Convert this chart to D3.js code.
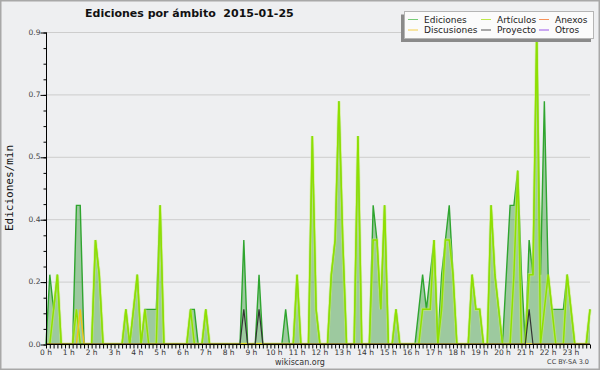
<!DOCTYPE html>
<html>
<head>
<meta charset="utf-8">
<script src="https://cdn.jsdelivr.net/npm/d3@7"></script>
<style>
  body { margin: 0; background: #fff; }
  text { font-family: "DejaVu Sans", sans-serif; }
</style>
</head>
<body>
<script>
// Ediciones por ámbito - wikiscan, 2015-01-25
// one value every 10 min (144 bins), in ediciones/min

var ediciones = [
  0,.2,.1,.2,0,0,0,0,.4,.4,0,0,
  0,.3,.2,0,0,0,0,0,0,.1,0,.1,
  .2,0,.1,.1,.1,.1,.4,0,0,0,0,0,
  0,0,.1,.1,0,0,.1,0,0,0,0,0,
  0,0,0,0,.3,0,0,0,.2,0,0,0,
  0,0,0,.1,0,0,.2,0,0,0,.6,.1,
  0,0,0,.2,.3,.7,.3,0,0,0,.6,0,
  0,0,.4,.3,.1,.4,0,0,.1,0,0,0,
  0,0,.1,.2,.1,.2,.3,0,.2,.3,.4,.2,
  0,0,0,0,.2,.1,.1,0,0,.4,.2,.1,
  0,.2,.4,.4,.5,.2,0,.3,.2,.9,.2,.7,
  .2,.1,.1,.1,.1,.2,.1,0,0,0,0,.1
];
var articulos = [
  0,0,.1,.2,0,0,0,0,.1,0,0,0,
  0,.3,.2,0,0,0,0,0,0,.1,0,.1,
  .2,0,.1,0,0,0,.4,0,0,0,0,0,
  0,0,.1,0,0,0,.1,0,0,0,0,0,
  0,0,0,0,0,0,0,0,0,0,0,0,
  0,0,0,0,0,0,.2,0,0,0,.6,.1,
  0,0,0,.2,.3,.7,.3,0,0,0,.6,0,
  0,0,.3,.3,.1,.4,0,0,.1,0,0,0,
  0,0,0,.1,.1,.1,.3,0,.1,.3,.3,.2,
  0,0,0,0,.2,.1,.1,0,0,.4,.2,.1,
  0,0,0,.2,.5,0,0,.2,.2,.9,0,.1,
  .2,.1,0,0,0,.2,.1,0,0,0,0,.1
];
var discusiones = [
  0,0,0,0,0,0,0,0,0,.1,0,0,
  0,0,0,0,0,0,0,0,0,0,0,0,
  0,0,0,0,0,0,0,0,0,0,0,0,
  0,0,0,0,0,0,0,0,0,0,0,0,
  0,0,0,0,0,0,0,0,0,0,0,0,
  0,0,0,0,0,0,0,0,0,0,0,0,
  0,0,0,0,0,0,0,0,0,0,0,0,
  0,0,0,0,0,0,0,0,0,0,0,0,
  0,0,0,0,0,0,0,0,0,0,0,0,
  0,0,0,0,0,0,0,0,0,0,0,0,
  0,0,0,0,0,0,0,0,0,0,0,0,
  0,0,0,0,0,0,0,0,0,0,0,0
];
var proyecto = [
  0,0,0,0,0,0,0,0,0,0,0,0,
  0,0,0,0,0,0,0,0,0,0,0,0,
  0,0,0,0,0,0,0,0,0,0,0,0,
  0,0,0,0,0,0,0,0,0,0,0,0,
  0,0,0,0,.1,0,0,0,.1,0,0,0,
  0,0,0,0,0,0,0,0,0,0,0,0,
  0,0,0,0,0,0,0,0,0,0,0,0,
  0,0,0,0,0,0,0,0,0,0,0,0,
  0,0,0,0,0,0,0,0,0,0,0,0,
  0,0,0,0,0,0,0,0,0,0,0,0,
  0,0,0,0,0,0,0,.1,0,0,0,0,
  0,0,0,0,0,0,0,0,0,0,0,0
];

var horas = ["0 h","1 h","2 h","3 h","4 h","5 h","6 h","7 h","8 h","9 h","10 h","11 h",
             "12 h","13 h","14 h","15 h","16 h","17 h","18 h","19 h","20 h","21 h","22 h","23 h"];
var yTicks = [0, 0.18, 0.36, 0.54, 0.72, 0.9];   // max/5 steps, labels rounded like the original
var leyenda = [["Ediciones","#7c7"],["Artículos","#bde84a"],["Anexos","#f7925a"],
               ["Discusiones","#f5cf4a"],["Proyecto","#555"],["Otros","#9a55e8"]];

var w = 600, h = 370;
var padL = 46, padR = 590, padT = 32, padB = 344;   // (window.top is taken, don't use "top")

var svg = d3.select("body").append("svg")
    .attr("width", w)
    .attr("height", h);

// background + frame
svg.append("rect")
    .attr("x", 0.75).attr("y", 0.75)
    .attr("width", w - 1.5).attr("height", h - 1.5)
    .attr("fill", "#eeeff1")
    .attr("stroke", "#a8a8a8")
    .attr("stroke-width", 1.5);

var x = d3.scaleLinear().domain([0, 143]).range([padL, padR]);
var y = d3.scaleLinear().domain([0, 0.9]).range([padB, padT]);

// grid
svg.selectAll(".grid")
    .data(yTicks.slice(1))
    .enter()
    .append("line")
    .attr("class", "grid")
    .attr("x1", padL).attr("x2", padR)
    .attr("y1", function (d) { return y(d) + 0.5; })
    .attr("y2", function (d) { return y(d) + 0.5; })
    .attr("stroke", "#cdcdcd")
    .attr("stroke-width", 1);

// area of total edits
var area = d3.area()
    .x(function (d, i) { return x(i); })
    .y0(y(0))
    .y1(function (d) { return y(d); });

svg.append("path")
    .datum(ediciones)
    .attr("d", area)
    .attr("fill", "#008000")
    .attr("fill-opacity", 0.34);

var line = d3.line()
    .x(function (d, i) { return x(i); })
    .y(function (d) { return y(d); });

svg.append("path")
    .datum(ediciones)
    .attr("d", line)
    .attr("fill", "none")
    .attr("stroke", "#2fa52f")
    .attr("stroke-width", 1.4);

// articulos: soft halo then the bright line
svg.append("path")
    .datum(articulos)
    .attr("d", line)
    .attr("fill", "none")
    .attr("stroke", "#c6f06a")
    .attr("stroke-opacity", 0.55)
    .attr("stroke-width", 3.2);

svg.append("path")
    .datum(articulos)
    .attr("d", line)
    .attr("fill", "none")
    .attr("stroke", "#8fe000")
    .attr("stroke-width", 1.5);

svg.append("path")
    .datum(discusiones)
    .attr("d", line)
    .attr("fill", "none")
    .attr("stroke", "#f2c21a")
    .attr("stroke-width", 1.4);

svg.append("path")
    .datum(proyecto)
    .attr("d", line)
    .attr("fill", "none")
    .attr("stroke", "#333")
    .attr("stroke-width", 1.2);

// y axis
var yAxis = d3.axisLeft(y)
    .tickValues(d3.range(0, 21).map(function (k) { return k * 0.045; }))
    .tickSize(3)
    .tickFormat("");
var gy = svg.append("g")
    .attr("transform", "translate(" + (padL + 0.5) + ",0.5)")
    .call(yAxis);
gy.select(".domain").attr("stroke", "#000").attr("d", "M0," + padT + "V" + padB);
gy.selectAll(".tick line").attr("stroke", "#000");

var gy2 = svg.append("g")
    .attr("transform", "translate(" + (padL + 0.5) + ",0.5)")
    .call(d3.axisLeft(y).tickValues(yTicks).tickSize(6).tickFormat(d3.format(".1f")));
gy2.select(".domain").remove();
gy2.selectAll(".tick line").attr("stroke", "#000");
gy2.selectAll(".tick text")
    .attr("x", -6)
    .attr("dy", "0.2em")
    .attr("fill", "#444")
    .style("font-family", "DejaVu Sans")
    .style("font-size", "7.5px");

// x axis - a tick every 10 min, labels every hour
var gx = svg.append("g")
    .attr("transform", "translate(0," + (padB + 0.5) + ")")
    .call(d3.axisBottom(x).tickValues(d3.range(0, 144)).tickSize(4).tickFormat(""));
gx.select(".domain").attr("stroke", "#000").attr("stroke-width", 1.2).attr("d", "M" + padL + ",0H" + padR);
gx.selectAll(".tick line").attr("stroke", "#000");

svg.selectAll(".hora")
    .data(horas)
    .enter()
    .append("text")
    .attr("class", "hora")
    .attr("x", function (d, i) { return x(i * 6); })
    .attr("y", 355)
    .attr("text-anchor", "middle")
    .attr("fill", "#333")
    .style("font-size", "7.5px")
    .text(function (d) { return d; });

// titles
svg.append("text")
    .attr("x", 85).attr("y", 17)
    .style("font-size", "11px")
    .style("font-weight", "bold")
    .attr("fill", "#111")
    .attr("xml:space", "preserve")
    .text("Ediciones por ámbito  2015-01-25");

svg.append("text")
    .attr("transform", "translate(13,188) rotate(-90)")
    .attr("text-anchor", "middle")
    .style("font-family", "DejaVu Sans Mono")
    .style("font-size", "11px")
    .attr("fill", "#111")
    .text("Ediciones/min");

svg.append("text")
    .attr("x", 300).attr("y", 365)
    .attr("text-anchor", "middle")
    .style("font-size", "8px")
    .attr("fill", "#333")
    .text("wikiscan.org");

svg.append("text")
    .attr("x", 589).attr("y", 364)
    .attr("text-anchor", "end")
    .style("font-size", "6.5px")
    .attr("fill", "#444")
    .text("CC BY-SA 3.0");

// legend box with shadow
svg.append("rect")
    .attr("x", 401).attr("y", 14.5)
    .attr("width", 190).attr("height", 27.5)
    .attr("fill", "#8a8a8a");
svg.append("rect")
    .attr("x", 404.5).attr("y", 11.5)
    .attr("width", 189).attr("height", 27)
    .attr("fill", "#fbfbfb")
    .attr("stroke", "#b5b5b5");

var colX = [408, 481, 539];
var leg = svg.selectAll(".leg")
    .data(leyenda)
    .enter()
    .append("g")
    .attr("class", "leg")
    .attr("transform", function (d, i) {
        return "translate(" + colX[i % 3] + "," + (i < 3 ? 19 : 29.5) + ")";
    });
leg.append("line")
    .attr("x1", 0).attr("x2", 10)
    .attr("y1", 0.5).attr("y2", 0.5)
    .attr("stroke", function (d) { return d[1]; })
    .attr("stroke-width", 1);
leg.append("text")
    .attr("x", 16).attr("y", 3.5)
    .style("font-size", "9px")
    .attr("fill", "#222")
    .text(function (d) { return d[0]; });
</script>
</body>
</html>
